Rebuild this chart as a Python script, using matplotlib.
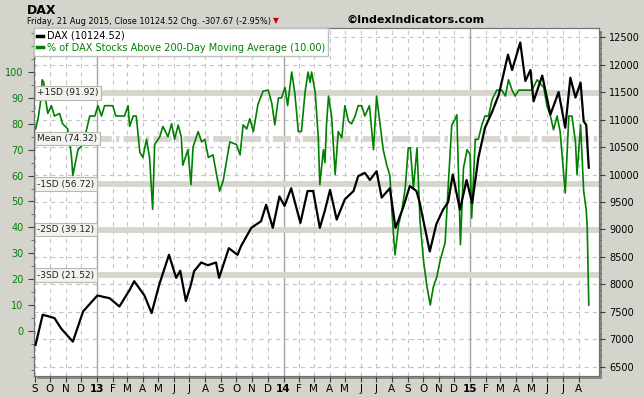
import matplotlib
matplotlib.use("Agg")
import matplotlib.pyplot as plt
import matplotlib.transforms as mtrans
from matplotlib.lines import Line2D
from matplotlib.patches import Rectangle
import pandas as pd

plt.rcParams["font.family"] = ["DejaVu Sans"]
plt.rcParams["lines.scale_dashes"] = False

# DAX close
dax_dates = ["2012-09-03", "2012-09-17", "2012-10-10", "2012-10-23", "2012-11-15", "2012-12-05",
             "2013-01-02", "2013-01-26", "2013-02-14", "2013-03-06", "2013-03-15", "2013-04-04",
             "2013-04-18", "2013-05-03", "2013-05-22", "2013-06-05", "2013-06-13", "2013-06-24",
             "2013-07-04", "2013-07-10", "2013-07-24", "2013-08-06", "2013-08-22", "2013-08-28",
             "2013-09-16", "2013-10-03", "2013-10-10", "2013-10-30", "2013-11-18", "2013-11-28",
             "2013-12-11", "2013-12-24", "2014-01-03", "2014-01-16", "2014-02-03", "2014-02-17",
             "2014-02-28", "2014-03-13", "2014-03-23", "2014-04-02", "2014-04-15", "2014-05-01",
             "2014-05-18", "2014-05-27", "2014-06-09", "2014-06-19", "2014-07-02", "2014-07-12",
             "2014-07-28", "2014-08-08", "2014-08-23", "2014-09-05", "2014-09-18", "2014-09-24",
             "2014-10-14", "2014-10-27", "2014-11-09", "2014-11-19", "2014-11-28", "2014-12-12",
             "2014-12-25", "2015-01-05", "2015-01-17", "2015-01-30", "2015-02-13", "2015-02-26",
             "2015-03-16", "2015-03-24", "2015-04-09", "2015-04-19", "2015-04-29", "2015-05-05",
             "2015-05-22", "2015-06-07", "2015-06-23", "2015-07-06", "2015-07-16", "2015-07-26",
             "2015-08-05", "2015-08-11", "2015-08-16", "2015-08-21"]
dax_close = [6900, 7450, 7390, 7200, 6960, 7510,
             7800, 7750, 7600, 7900, 8060, 7800,
             7480, 8000, 8540, 8120, 8250, 7700,
             8000, 8240, 8400, 8350, 8400, 8120,
             8660, 8540, 8700, 9030, 9150, 9450,
             9030, 9600, 9430, 9750, 9120, 9700,
             9700, 9030, 9350, 9720, 9180, 9550,
             9700, 9970, 10030, 9900, 10060, 9580,
             9750, 9030, 9400, 9790, 9700, 9500,
             8600, 9100, 9360, 9500, 10000, 9360,
             9900, 9480, 10300, 10850, 11140, 11450,
             12180, 11900, 12400, 11700, 11900, 11330,
             11800, 11090, 11500, 10850, 11760, 11400,
             11670, 10970, 10900, 10124.52]

# % of DAX stocks above 200-day moving average
pct_dates = ["2012-09-03", "2012-09-08", "2012-09-14", "2012-09-16", "2012-09-19", "2012-09-23",
             "2012-09-27", "2012-10-04", "2012-10-10", "2012-10-20", "2012-10-26", "2012-11-05",
             "2012-11-12", "2012-11-15", "2012-11-25", "2012-12-05", "2012-12-18", "2012-12-28",
             "2013-01-03", "2013-01-10", "2013-01-16", "2013-02-01", "2013-02-07", "2013-02-24",
             "2013-03-03", "2013-03-06", "2013-03-13", "2013-03-19", "2013-03-26", "2013-04-01",
             "2013-04-08", "2013-04-14", "2013-04-20", "2013-04-24", "2013-05-04", "2013-05-10",
             "2013-05-20", "2013-05-27", "2013-06-02", "2013-06-09", "2013-06-15", "2013-06-18",
             "2013-06-28", "2013-07-04", "2013-07-08", "2013-07-18", "2013-07-25", "2013-07-31",
             "2013-08-07", "2013-08-16", "2013-08-29", "2013-09-05", "2013-09-12", "2013-09-18",
             "2013-10-01", "2013-10-08", "2013-10-14", "2013-10-21", "2013-10-27", "2013-11-03",
             "2013-11-12", "2013-11-22", "2013-12-02", "2013-12-09", "2013-12-15", "2013-12-22",
             "2013-12-28", "2014-01-04", "2014-01-09", "2014-01-17", "2014-01-23", "2014-01-30",
             "2014-02-05", "2014-02-12", "2014-02-18", "2014-02-22", "2014-02-25", "2014-03-04",
             "2014-03-10", "2014-03-13", "2014-03-20", "2014-03-23", "2014-03-26", "2014-03-30",
             "2014-04-05", "2014-04-12", "2014-04-18", "2014-04-25", "2014-05-01", "2014-05-08",
             "2014-05-14", "2014-05-21", "2014-05-27", "2014-06-03", "2014-06-09", "2014-06-18",
             "2014-06-26", "2014-07-02", "2014-07-09", "2014-07-15", "2014-07-22", "2014-07-28",
             "2014-08-01", "2014-08-07", "2014-08-14", "2014-08-20", "2014-08-27", "2014-09-02",
             "2014-09-06", "2014-09-12", "2014-09-19", "2014-09-25", "2014-10-02", "2014-10-08",
             "2014-10-15", "2014-10-21", "2014-10-28", "2014-11-03", "2014-11-13", "2014-11-20",
             "2014-11-26", "2014-12-03", "2014-12-06", "2014-12-13", "2014-12-19", "2014-12-26",
             "2015-01-01", "2015-01-04", "2015-01-11", "2015-01-17", "2015-01-24", "2015-01-30",
             "2015-02-06", "2015-02-13", "2015-02-22", "2015-03-04", "2015-03-11", "2015-03-17",
             "2015-03-24", "2015-03-30", "2015-04-06", "2015-05-02", "2015-05-12", "2015-05-25",
             "2015-05-31", "2015-06-07", "2015-06-13", "2015-06-20", "2015-06-26", "2015-07-06",
             "2015-07-13", "2015-07-19", "2015-07-26", "2015-07-29", "2015-08-05", "2015-08-11",
             "2015-08-16", "2015-08-18", "2015-08-21"]
pct_above = [78, 82, 90, 97, 96, 89,
             84, 87, 83, 84, 80, 78,
             68, 60, 70, 72, 83, 83,
             87, 83, 87, 87, 83, 83,
             87, 79, 83, 83, 69, 67,
             74, 67, 47, 72, 75, 79,
             75, 80, 74, 79.5, 75, 64,
             70, 56.5, 71, 77, 73, 74,
             67, 68, 54, 58, 66, 73,
             72, 68, 79.6, 78, 82, 77,
             87.5, 92.6, 93, 88, 79.6, 90,
             90, 94, 87, 100, 92, 77,
             77, 92, 100, 96, 100, 92,
             74.6, 56.5, 70, 65, 79.5, 90.7,
             83, 60.4, 77, 74.6, 87, 81,
             80, 83, 87, 87, 83, 87,
             70, 90.7, 79.6, 70, 64, 60,
             46, 29.4, 41, 46, 55, 70.7,
             70.7, 55, 70.7, 42.3, 26.8, 17.8,
             10, 17, 21, 27, 34, 59,
             79.5, 82, 83.5, 33.3, 63, 70,
             68, 43.6, 74, 74, 79.6, 83,
             83, 89.4, 93, 93, 90.7, 97,
             93, 90.7, 93, 93, 97, 94,
             87, 83, 77.7, 83, 77, 53.3,
             83, 83, 73, 60.4, 79.6, 54,
             46.8, 40, 10]

sd_names = ["+1SD", "Mean", "-1SD", "-2SD", "-3SD"]
sd_levels = [91.92, 74.32, 56.72, 39.12, 21.52]
pct_ticks = list(range(0, 101, 10))
dax_ticks = list(range(6500, 12501, 500))
month_letters = ["J", "F", "M", "A", "M", "J", "J", "A", "S", "O", "N", "D"]

green = "#008000"
band = "#d6d6ce"
bg = "#d4d4cc"

fig = plt.figure(figsize=(6.44, 3.98), dpi=100, facecolor=bg)
W, H = 644.0, 398.0
L, R, T, B = 34, 599, 28, 376
ax = fig.add_axes([L / W, 1 - B / H, (R - L) / W, (B - T) / H])
ax2 = ax.twinx()

# drop shadow of the chart panel
fig.add_artist(Rectangle(((L + 3) / W, 1 - (B + 3) / H), (R - L) / W, (B - T) / H,
                         transform=fig.transFigure, facecolor="#8a8a86", edgecolor="none", zorder=-5))

dax_x = pd.to_datetime(dax_dates)
pct_x = pd.to_datetime(pct_dates)
months = pd.date_range("2012-09-01", "2015-08-01", freq="MS")

ax.set_xlim(pd.Timestamp("2012-08-31"), pd.Timestamp("2015-09-10"))
ax.set_ylim(-17.4, 117)
ax2.set_ylim(6336, 12664)

# grid: horizontal at DAX ticks, vertical at months
gtrans = mtrans.blended_transform_factory(ax.transAxes, ax2.transData)
for v in dax_ticks:
    ax.plot([0, 1], [v, v], transform=gtrans, color="#c4c4c4", lw=0.8,
            ls=(0, (3, 3)), zorder=0.5)
for m in months:
    if m.month == 1:
        ax.axvline(m, color="#a4a4a4", lw=1.0, zorder=0.6)
    else:
        ax.axvline(m, color="#c4c4c4", lw=0.8, ls=(0, (3, 3)), zorder=0.5)

# standard deviation bands
for name, lev in zip(sd_names, sd_levels):
    if name == "Mean":
        ax.axhline(lev, color=band, lw=4.2, ls=(0, (13, 3, 2.5, 3)), zorder=1)
    else:
        ax.axhline(lev, color=band, lw=4.2, zorder=1)

ax.plot(pct_x, pct_above, color=green, lw=1.2, zorder=3)
ax2.plot(dax_x, dax_close, color="black", lw=1.6, zorder=3)

# band labels
ltrans = mtrans.blended_transform_factory(ax2.transAxes, ax.transData)
for name, lev in zip(sd_names, sd_levels):
    ax2.text(0.006, lev, "%s (%.2f)" % (name, lev), transform=ltrans, fontsize=6.5,
             va="center", ha="left", color="#202020", zorder=6,
             bbox=dict(boxstyle="square,pad=0.25", facecolor="#f2f2ee", edgecolor="#b8b8b0", lw=0.8))

# axes styling
ax.set_yticks(pct_ticks)
ax.set_yticks(range(-15, 116, 5), minor=True)
ax.tick_params(axis="y", which="major", labelsize=7, labelcolor=green, length=4, color="#404040")
ax.tick_params(axis="y", which="minor", length=2, color="#606060")
ax2.set_yticks(dax_ticks)
ax2.set_yticks(range(6400, 12700, 100), minor=True)
ax2.tick_params(axis="y", which="major", labelsize=7, length=4, color="#404040")
ax2.tick_params(axis="y", which="minor", length=1.5, color="#606060")

ax.set_xticks(months)
ax.set_xticklabels([("%02d" % (m.year % 100)) if m.month == 1 else month_letters[m.month - 1]
                    for m in months])
ax.tick_params(axis="x", labelsize=7.5, length=4, color="#404040", pad=2)
for lab, m in zip(ax.get_xticklabels(), months):
    if m.month == 1:
        lab.set_fontweight("bold")

for a in (ax, ax2):
    for s in a.spines.values():
        s.set_color("#707070")
        s.set_linewidth(0.8)

# legend
handles = [Line2D([], [], color="black", lw=2.5), Line2D([], [], color=green, lw=2.5)]
leg = ax2.legend(handles, ["DAX (10124.52)", "% of DAX Stocks Above 200-Day Moving Average (10.00)"],
                 loc="upper left", bbox_to_anchor=(0, 1), borderaxespad=0, fontsize=7,
                 handlelength=0.6, handletextpad=0.4, labelspacing=0.2, borderpad=0.3,
                 fancybox=False, framealpha=1, edgecolor="#c0c0c0", labelcolor="linecolor")
leg.set_zorder(10)

# header
fig.text(27 / W, 1 - 10 / H, "DAX", fontsize=9, fontweight="bold", va="center", ha="left")
fig.text(27 / W, 1 - 21 / H, "Friday, 21 Aug 2015, Close 10124.52 Chg. -307.67 (-2.95%)",
         fontsize=5.9, va="center", ha="left")
fig.text(276 / W, 1 - 21 / H, "\u25bc", fontsize=5.5, color="#cc0000", va="center", ha="center")
fig.text(485 / W, 1 - 20 / H, "\u00a9IndexIndicators.com", fontsize=8, fontweight="bold",
         va="center", ha="right")

fig.savefig("out.png", dpi=100, facecolor=bg)
